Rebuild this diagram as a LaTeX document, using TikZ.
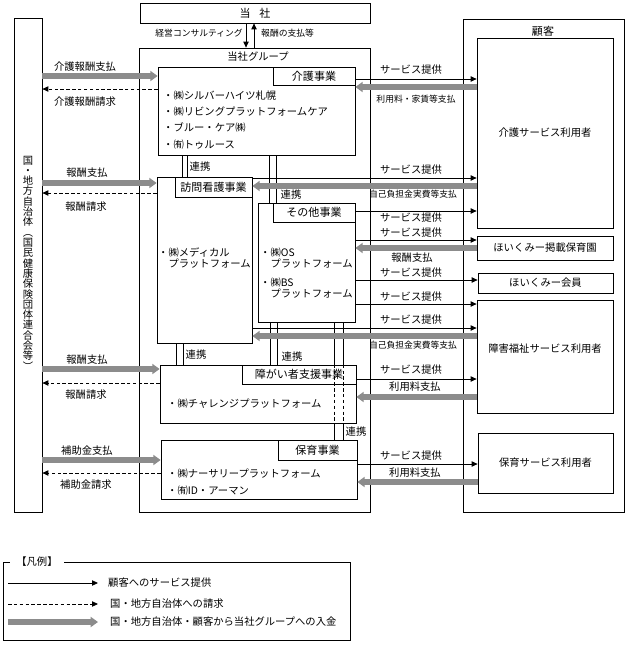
\documentclass[tikz,border=0pt]{standalone}
\usepackage{fontspec}
\setmainfont{Noto Sans CJK JP}
\usetikzlibrary{arrows.meta,fit}
\definecolor{paygray}{RGB}{140,140,140}
\tikzset{
  box/.style={draw,line width=0.6pt,inner sep=0pt},
  txt/.style={inner sep=0pt,font=\fontsize{8.8}{10}\selectfont},
  tabtxt/.style={inner sep=0pt,font=\fontsize{9.4}{11}\selectfont},
  smalltxt/.style={inner sep=0pt,font=\fontsize{7.5}{9}\selectfont},
  svc/.style={line width=0.7pt,-{Triangle[length=1.8mm,width=1.6mm]}},
  req/.style={line width=0.7pt,dash pattern=on 3pt off 2pt,-{Triangle[length=1.8mm,width=1.6mm]}},
  pay/.style={draw=paygray,line width=1.6mm,-{Triangle[length=2.2mm,width=3mm]}},
  link/.style={line width=0.6pt}
}

\begin{document}
\begin{tikzpicture}[x=0.3mm,y=-0.3mm]
\useasboundingbox (0,0) rectangle (628,645);

\node[box,fit={(140,3) (370,23)}] (tosha) {};
\node[tabtxt] (toshatext) at (tosha) {当\hspace{0.8em}社};
\node[box,fit={(139,48) (370,512)}] (group) {};
\node[txt] (grouptitle) at (258,57) {当社グループ};
\node[box,fit={(14,18) (42,512)}] (kuni) {};
\node[txt,align=center,font=\fontsize{8.8}{8.8}\selectfont] (kunitext) at (28,263)
  {国\\・\\地\\方\\自\\治\\体\\︵\\国\\民\\健\\康\\保\\険\\団\\体\\連\\合\\会\\等\\︶};

\node[box,fit={(463,19) (624,512)}] (kokyaku) {};
\node[tabtxt] (kokyakutitle) at (543,31) {顧客};
\node[box,fit={(477,38) (613,228)}] (kaigouser) {};
\node[txt] (kaigousertext) at (kaigouser) {介護サービス利用者};
\node[box,fit={(477,236) (613,260)}] (hoikuen) {};
\node[txt] (hoikuentext) at (hoikuen) {ほいくみー掲載保育園};
\node[box,fit={(478,273) (613,293)}] (member) {};
\node[txt] (membertext) at (member) {ほいくみー会員};
\node[box,fit={(477,300) (613,413)}] (shogaiuser) {};
\node[txt] (shogaiusertext) at (545,349) {障害福祉サービス利用者};
\node[box,fit={(478,433) (613,493)}] (hoikuuser) {};
\node[txt] (hoikuusertext) at (hoikuuser) {保育サービス利用者};

\node[box,fit={(158,67) (355,155)}] (kaigo) {};
\node[box,fit={(273,67) (355,85)}] (kaigotab) {};
\node[tabtxt] (kaigotabtext) at (kaigotab) {介護事業};
\node[txt,anchor=west,align=left,font=\fontsize{8.8}{13.7}\selectfont] (kaigolist) at (163,120)
  {・㈱シルバーハイツ札幌\\・㈱リビングプラットフォームケア\\・ブルー・ケア㈱\\・㈲トゥルース};

\node[box,fit={(157,177) (252,343)}] (houmon) {};
\node[box,fit={(175,177) (252,197)}] (houmontab) {};
\node[tabtxt] (houmontabtext) at (houmontab) {訪問看護事業};
\node[txt,anchor=west,align=left,font=\fontsize{8.8}{10.2}\selectfont] (houmonlist) at (158,258)
  {・㈱メディカル\\\phantom{・}プラットフォーム};

\node[box,fit={(258,203) (355,322)}] (sonota) {};
\node[box,fit={(273,203) (355,222)}] (sonotatab) {};
\node[tabtxt] (sonotatabtext) at (sonotatab) {その他事業};
\node[txt,anchor=west,align=left,font=\fontsize{8.8}{9.6}\selectfont] (sonotaos) at (260,258)
  {・㈱OS\\\phantom{・}プラットフォーム};
\node[txt,anchor=west,align=left,font=\fontsize{8.8}{9.6}\selectfont] (sonotabs) at (260,288)
  {・㈱BS\\\phantom{・}プラットフォーム};

\node[box,fit={(160,365) (356,423)}] (shogai) {};
\node[box,fit={(242,365) (356,384)}] (shogaitab) {};
\node[tabtxt] (shogaitabtext) at (shogaitab) {障がい者支援事業};
\node[txt,anchor=west] (shogailist) at (167,404) {・㈱チャレンジプラットフォーム};

\node[box,fit={(161,440) (357,499)}] (hoiku) {};
\node[box,fit={(278,440) (357,460)}] (hoikutab) {};
\node[tabtxt] (hoikutabtext) at (hoikutab) {保育事業};
\node[txt,anchor=west,align=left,font=\fontsize{8.8}{14.5}\selectfont] (hoikulist) at (167,482)
  {・㈱ナーサリープラットフォーム\\・㈲ID・アーマン};

\draw[svc] (tosha.south -| 246,0) -- (group.north -| 246,0);
\draw[svc] (group.north -| 254,0) -- (tosha.south -| 254,0);
\node[smalltxt,anchor=east] (consult) at (243,33) {経営コンサルティング};
\node[smalltxt,anchor=west] (fee) at (261,33) {報酬の支払等};

\foreach \x in {182,187} \draw[link] (kaigo.south -| \x,0) -- (houmon.north -| \x,0);
\foreach \x in {269,276} \draw[link] (kaigo.south -| \x,0) -- (sonota.north -| \x,0);
\foreach \x in {176,183} \draw[link] (houmon.south -| \x,0) -- (shogai.north -| \x,0);
\foreach \x in {270,277} \draw[link] (sonota.south -| \x,0) -- (shogai.north -| \x,0);
\foreach \x in {334,343} {
  \draw[link] (sonota.south -| \x,0) -- (shogai.north -| \x,0);
  \draw[link,densely dashed] (shogai.north -| \x,0) -- (shogai.south -| \x,0);
  \draw[link] (shogai.south -| \x,0) -- (hoiku.north -| \x,0);
}
\node[txt] (renkei1) at (200,167) {連携};
\node[txt] (renkei2) at (291,195) {連携};
\node[txt] (renkei3) at (196,355) {連携};
\node[txt] (renkei4) at (292,357) {連携};
\node[txt] (renkei5) at (356,432) {連携};

\draw[pay] (kuni.east |- 0,76) -- (kaigo.west |- 0,76);
\draw[req] (kaigo.west |- 0,89) -- (kuni.east |- 0,89);
\draw[pay] (kuni.east |- 0,183) -- (houmon.west |- 0,183);
\draw[req] (houmon.west |- 0,193) -- (kuni.east |- 0,193);
\draw[pay] (kuni.east |- 0,369) -- (shogai.west |- 0,369);
\draw[req] (shogai.west |- 0,383) -- (kuni.east |- 0,383);
\draw[pay] (kuni.east |- 0,460) -- (hoiku.west |- 0,460);
\draw[req] (hoiku.west |- 0,473) -- (kuni.east |- 0,473);
\node[txt] (kaigopay) at (85,67) {介護報酬支払};
\node[txt] (kaigoreq) at (85,102) {介護報酬請求};
\node[txt] (houmonpay) at (87,173) {報酬支払};
\node[txt] (houmonreq) at (86,207) {報酬請求};
\node[txt] (shogaipay) at (87,360) {報酬支払};
\node[txt] (shogaireq) at (86,395) {報酬請求};
\node[txt] (hoikupay) at (87,451) {補助金支払};
\node[txt] (hoikureq) at (86,485) {補助金請求};

\draw[svc] (kaigo.east |- 0,79) -- (kaigouser.west |- 0,79);
\draw[pay] (kaigouser.west |- 0,87) -- (kaigo.east |- 0,87);
\draw[svc] (houmon.east |- 0,178) -- (kaigouser.west |- 0,178);
\draw[pay] (kaigouser.west |- 0,186) -- (houmon.east |- 0,186);
\draw[svc] (sonota.east |- 0,211) -- (kaigouser.west |- 0,211);
\draw[svc] (sonota.east |- 0,240) -- (hoikuen.west |- 0,240);
\draw[pay] (hoikuen.west |- 0,248) -- (sonota.east |- 0,248);
\draw[svc] (sonota.east |- 0,280) -- (member.west |- 0,280);
\draw[svc] (sonota.east |- 0,304) -- (shogaiuser.west |- 0,304);
\draw[svc] (houmon.east |- 0,328) -- (shogaiuser.west |- 0,328);
\draw[pay] (shogaiuser.west |- 0,336) -- (houmon.east |- 0,336);
\draw[svc] (shogai.east |- 0,379) -- (shogaiuser.west |- 0,379);
\draw[pay] (shogaiuser.west |- 0,397) -- (shogai.east |- 0,397);
\draw[svc] (hoiku.east |- 0,464) -- (hoikuuser.west |- 0,464);
\draw[pay] (hoikuuser.west |- 0,482) -- (hoiku.east |- 0,482);
\foreach \y [count=\i] in {70,170,218,233,273,297,320,370,456}
  \node[txt] (svclbl\i) at (411,\y) {サービス提供};
\node[smalltxt] (kaigofee) at (416,99) {利用料・家賃等支払};
\node[smalltxt] (selfpay1) at (413,194) {自己負担金実費等支払};
\node[txt] (hoikuenpay) at (412,258) {報酬支払};
\node[smalltxt] (selfpay2) at (413,345) {自己負担金実費等支払};
\node[txt] (shogaifee) at (415,387) {利用料支払};
\node[txt] (hoikufee) at (415,473) {利用料支払};

\node[box,fit={(3,562) (350,640)}] (legend) {};
\node[txt,fill=white,inner xsep=2mm] (legendtitle) at (37,562) {【凡例】};
\coordinate (lgsvcs) at (8,583);
\coordinate (lgsvce) at (98,583);
\coordinate (lgreqs) at (8,604);
\coordinate (lgreqe) at (98,604);
\coordinate (lgpays) at (8,622);
\coordinate (lgpaye) at (98,622);
\draw[svc] (lgsvcs) -- (lgsvce);
\draw[req] (lgreqs) -- (lgreqe);
\draw[pay] (lgpays) -- (lgpaye);
\node[txt,anchor=west] (lgsvctext) at (108,583) {顧客へのサービス提供};
\node[txt,anchor=west] (lgreqtext) at (110,604) {国・地方自治体への請求};
\node[txt,anchor=west] (lgpaytext) at (110,622) {国・地方自治体・顧客から当社グループへの入金};
\end{tikzpicture}
\end{document}
